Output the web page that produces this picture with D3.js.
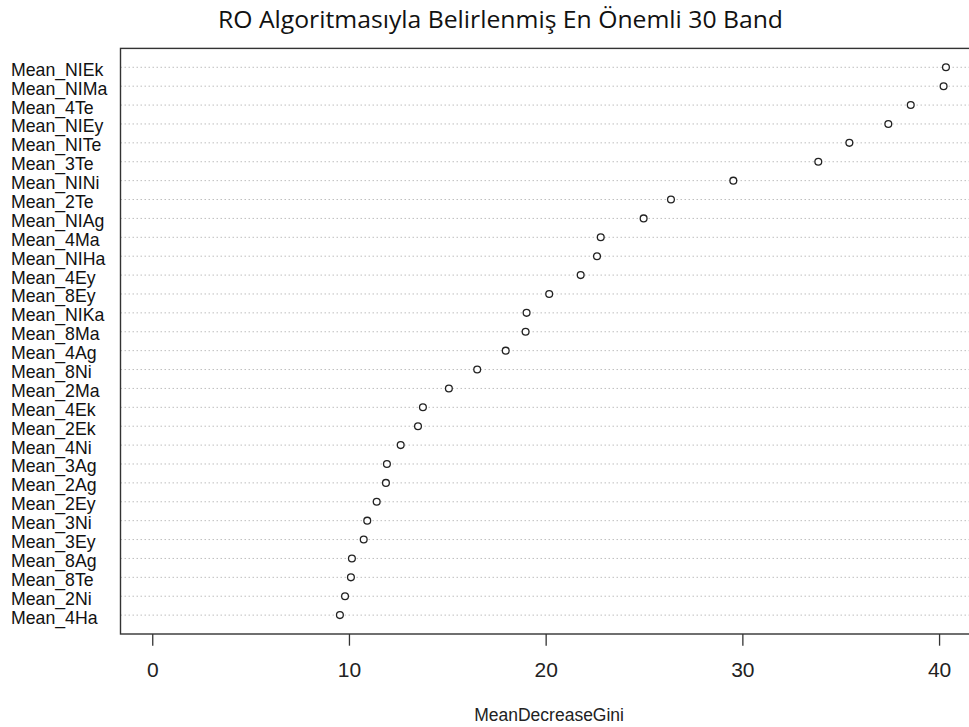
<!DOCTYPE html>
<html>
<head>
<meta charset="utf-8">
<script src="https://cdn.jsdelivr.net/npm/d3@7"></script>
<style>
  body { margin: 0; background: #fff; }
  svg { display: block; }
  .rowLabel { font-family: "Liberation Sans", Arial, sans-serif; font-size: 17.7px; fill: #111; }
  .axis text { font-family: "Liberation Sans", Arial, sans-serif; font-size: 21px; fill: #222; }
  .axis line { stroke: #333; stroke-width: 1.3; }
  .axisLabel { font-family: "Liberation Sans", Arial, sans-serif; font-size: 17.5px; fill: #222; }
  .title { font-family: "Open Sans", "Noto Sans", sans-serif; font-size: 23px; fill: #111; }
</style>
</head>
<body>
<script>
// bands, top to bottom as shown in the chart
var bands = ["Mean_NIEk", "Mean_NIMa", "Mean_4Te", "Mean_NIEy", "Mean_NITe",
             "Mean_3Te", "Mean_NINi", "Mean_2Te", "Mean_NIAg", "Mean_4Ma",
             "Mean_NIHa", "Mean_4Ey", "Mean_8Ey", "Mean_NIKa", "Mean_8Ma",
             "Mean_4Ag", "Mean_8Ni", "Mean_2Ma", "Mean_4Ek", "Mean_2Ek",
             "Mean_4Ni", "Mean_3Ag", "Mean_2Ag", "Mean_2Ey", "Mean_3Ni",
             "Mean_3Ey", "Mean_8Ag", "Mean_8Te", "Mean_2Ni", "Mean_4Ha"];

// MeanDecreaseGini, same order as bands
var gini = [40.35, 40.23, 38.56, 37.42, 35.44,
            33.86, 29.54, 26.37, 24.98, 22.8,
            22.61, 21.78, 20.18, 19.03, 18.98,
            17.97, 16.52, 15.08, 13.76, 13.51,
            12.63, 11.93, 11.88, 11.41, 10.93,
            10.75, 10.15, 10.10, 9.80, 9.54];

var xTicks = [0, 10, 20, 30, 40];

var titleText = "RO Algoritmasıyla Belirlenmiş En Önemli 30 Band";
var xLabel = "MeanDecreaseGini";

var totalWidth = 969;
var totalHeight = 727;

// plot box (right side runs past the picture edge, like the reference)
var box = {"left": 120.5, "right": 977.7, "top": 48.4, "bottom": 634};

var n = bands.length;
var rows = bands.map(function(b, i) {
  return {"name": b, "value": gini[i], "pos": n - i};
});

// x limits like R: 0..max, stretched by 4 percent
var xmax = d3.max(gini);
var ext = 0.04 * xmax;

var xScale = d3.scaleLinear()
               .domain([0 - ext, xmax + ext])
               .range([box.left, box.right]);

var yScale = d3.scaleLinear()
               .domain([0, n + 1])
               .range([box.bottom, box.top]);

var svg = d3.select("body")
            .append("svg")
            .attr("width", totalWidth)
            .attr("height", totalHeight);

// dotted guide lines
svg.selectAll("line.guide")
   .data(rows)
   .enter()
   .append("line")
   .attr("class", "guide")
   .attr("x1", box.left)
   .attr("x2", box.right)
   .attr("y1", function(d) { return yScale(d.pos); })
   .attr("y2", function(d) { return yScale(d.pos); })
   .attr("stroke", "#bebebe")
   .attr("stroke-width", 1)
   .attr("stroke-dasharray", "1.5,2.5");

// plot box
svg.append("rect")
   .attr("x", box.left)
   .attr("y", box.top)
   .attr("width", box.right - box.left)
   .attr("height", box.bottom - box.top)
   .attr("fill", "none")
   .attr("stroke", "#333")
   .attr("stroke-width", 1.4);

// open circles
svg.selectAll("circle")
   .data(rows)
   .enter()
   .append("circle")
   .attr("cx", function(d) { return xScale(d.value); })
   .attr("cy", function(d) { return yScale(d.pos); })
   .attr("r", 3.4)
   .attr("fill", "#fff")
   .attr("stroke", "#222")
   .attr("stroke-width", 1.3);

// band names on the left
svg.selectAll("text.rowLabel")
   .data(rows)
   .enter()
   .append("text")
   .attr("class", "rowLabel")
   .attr("x", 11)
   .attr("y", function(d) { return yScale(d.pos) + 8.5; })
   .text(function(d) { return d.name; });

// x axis
var xAxis = d3.axisBottom(xScale)
              .tickValues(xTicks)
              .tickSize(11.7)
              .tickPadding(16)
              .tickFormat(d3.format("d"));

var gx = svg.append("g")
            .attr("class", "axis")
            .attr("transform", "translate(0," + box.bottom + ")")
            .call(xAxis);
gx.select(".domain").remove();

// axis label
svg.append("text")
   .attr("class", "axisLabel")
   .attr("x", (box.left + box.right) / 2)
   .attr("y", 720.5)
   .attr("text-anchor", "middle")
   .text(xLabel);

// title
svg.append("text")
   .attr("class", "title")
   .attr("x", 218)
   .attr("y", 28.3)
   .attr("textLength", 565)
   .attr("lengthAdjust", "spacingAndGlyphs")
   .text(titleText);
</script>
</body>
</html>
